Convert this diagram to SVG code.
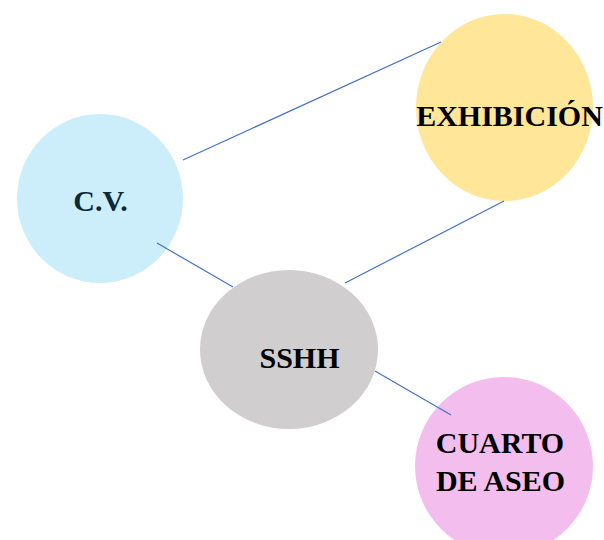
<svg xmlns="http://www.w3.org/2000/svg" width="604" height="540" viewBox="0 0 604 540">
<style>
.lbl{font-family:"Liberation Serif","Times New Roman",serif;font-weight:bold;font-size:30px;text-anchor:middle;fill:#000}
.con{stroke:#4472C4;stroke-width:1.2;fill:none}
</style>
<rect width="604" height="540" fill="#fff"/>
<g id="cv">
<ellipse cx="100" cy="198.5" rx="83" ry="84.5" fill="#CCEEFB"/>
<text class="lbl" x="100.5" y="211" style="fill:#0B2A36">C.V.</text>
</g>
<g id="exhibicion">
<ellipse cx="504.5" cy="107.5" rx="88.5" ry="93.5" fill="#FFE699"/>
<text class="lbl" x="509.5" y="126">EXHIBICIÓN</text>
</g>
<g id="sshh">
<ellipse cx="289" cy="349.5" rx="89" ry="79.5" fill="#D0CECE"/>
<text class="lbl" x="299.5" y="368">SSHH</text>
</g>
<g id="cuarto">
<ellipse cx="504" cy="466" rx="89" ry="89" fill="#F3BEEE"/>
<text class="lbl" x="500" y="453">CUARTO</text>
<text class="lbl" x="500.5" y="491">DE ASEO</text>
</g>
<g id="connectors">
<line class="con" x1="183" y1="160" x2="441" y2="42"/>
<line class="con" x1="157" y1="243" x2="233" y2="287"/>
<line class="con" x1="345" y1="283" x2="504" y2="201"/>
<line class="con" x1="375" y1="371" x2="451" y2="415"/>
</g>
</svg>
